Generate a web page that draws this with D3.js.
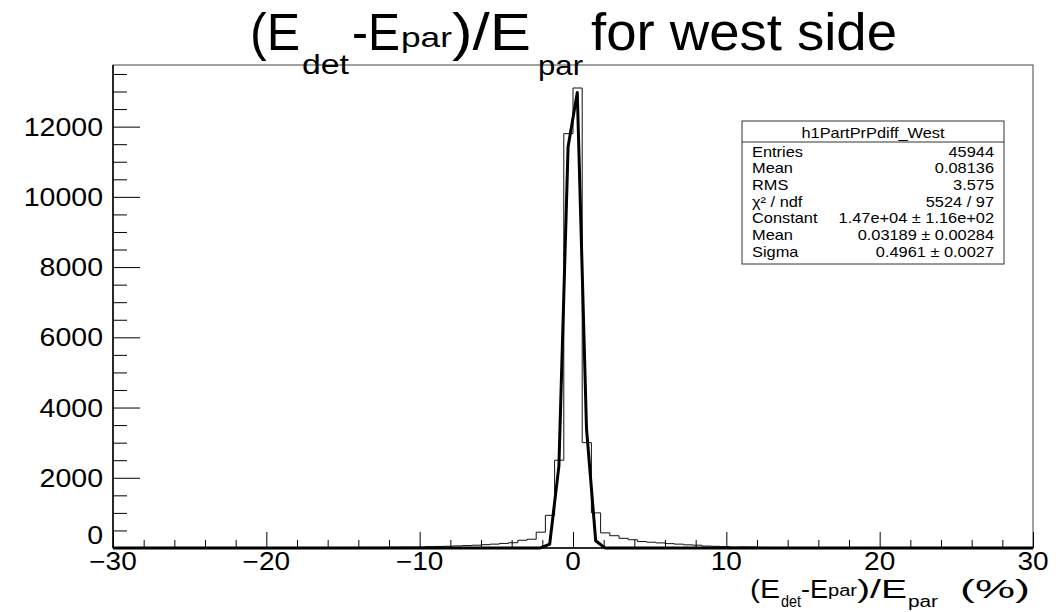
<!DOCTYPE html>
<html><head><meta charset="utf-8">
<script src="https://cdn.jsdelivr.net/npm/d3@7"></script>
<style>
body{margin:0;background:#fff}
text{font-family:"Liberation Sans",Arial,Helvetica,sans-serif;fill:#000}
</style>
</head><body>
<svg id="c" width="1056" height="612"></svg>
<script>
// ---------- data ----------
const binLow = -30, binWidth = 0.6;
const counts = [
  3,2,4,3,3,4,5,4,5,6,5,6,7,6,8,7,9,
  9,10,11,10,12,13,14,13,15,16,18,19,20,22,24,26,28,
  40,45,50,60,70,80,95,110,130,150,
  220,250,450,930,2500,11800,13100,3000,1000,430,
  350,275,235,185,165,145,125,110,90,80,
  55,48,42,25,30,28,
  18,15,14,12,11,10,9,9,8,7,7,6,6,5,5,5,4,4,4,3,3,3,3,2,2,2,2,2,1,1
];
const fitX = [-30, -3.32, -2.72, -2.12, -1.52, -0.92, -0.32, 0.28, 0.88, 1.48, 2.08, 2.68, 30];
const fitY = [0, 0, 0, 3, 110, 2330, 11430, 12970, 3410, 207, 2, 0, 0];
const yMajor = [0, 2000, 4000, 6000, 8000, 10000, 12000];
const yMinor = [500,1000,1500,2500,3000,3500,4500,5000,5500,6500,7000,7500,8500,9000,9500,10500,11000,11500,12500,13000,13500];
const xMajor = [-30, -20, -10, 0, 10, 20, 30];
const xMinor = [-28,-26,-24,-22,-18,-16,-14,-12,-8,-6,-4,-2,2,4,6,8,12,14,16,18,22,24,26,28];
const yMax = 13755;
const statsTitle = "h1PartPrPdiff_West";
const statsLabels = ["Entries", "Mean", "RMS", "χ² / ndf", "Constant", "Mean", "Sigma"];
const statsValues = ["45944", "0.08136", "3.575", "5524 / 97", "1.47e+04 ± 1.16e+02", "0.03189 ± 0.00284", "0.4961 ± 0.0027"];
// title pieces: [text, x, baseline, size, width]
const titleParts = [
  ["(E", 250, 50, 51, 50], ["det", 302, 74, 28, 47], ["-E", 352, 50, 51, 48],
  ["par", 401, 47, 28, 51], [")/E", 452, 50, 51, 79], ["par", 538, 75, 28, 45],
  ["for west side", 591, 50, 51, 306]
];
const xTitleParts = [
  ["(E", 750, 598, 25, 30], ["det", 781, 607, 16, 20], ["-E", 801, 598, 25, 27],
  ["par", 828, 596, 16, 29], [")/E", 857, 598, 25, 50], ["par", 908, 607, 16, 30],
  ["(%)", 960, 598, 25, 70]
];

// ---------- layout ----------
const L = 113, R = 1033, T = 65, B = 548;
const svg = d3.select("#c");
const x = d3.scaleLinear().domain([-30, 30]).range([L, R]);
const y = d3.scaleLinear().domain([0, yMax]).range([B, T]);

// frame
svg.append("rect").attr("x", L).attr("y", T).attr("width", R - L).attr("height", B - T)
  .attr("fill", "none").attr("stroke", "#444").attr("stroke-width", 1);

// histogram
let p = `M${x(binLow)},${y(0)}`;
counts.forEach((c, i) => {
  const x1 = binLow + (i + 1) * binWidth;
  p += `V${y(c)}H${x(x1)}`;
});
p += `V${y(0)}`;
svg.append("path").attr("d", p).attr("fill", "none").attr("stroke", "#111").attr("stroke-width", 1);

// fit curve
const line = d3.line().x((d, i) => x(fitX[i])).y(d => y(d));
svg.append("path").attr("d", line(fitY)).attr("fill", "none").attr("stroke", "#000")
  .attr("stroke-width", 3).attr("stroke-linejoin", "round");

// axes
function styleAxis(g) { g.selectAll("path.domain").remove(); g.selectAll("line").attr("stroke", "#000"); }
svg.append("g").attr("transform", `translate(${L},0)`)
  .call(d3.axisLeft(y).tickValues(yMajor).tickSize(-27).tickFormat("")).call(styleAxis);
svg.append("g").attr("transform", `translate(${L},0)`)
  .call(d3.axisLeft(y).tickValues(yMinor).tickSize(-14).tickFormat("")).call(styleAxis);
svg.append("g").attr("transform", `translate(0,${B})`)
  .call(d3.axisBottom(x).tickValues(xMajor).tickSize(-16).tickFormat("")).call(styleAxis);
svg.append("g").attr("transform", `translate(0,${B})`)
  .call(d3.axisBottom(x).tickValues(xMinor).tickSize(-8).tickFormat("")).call(styleAxis);
svg.append("line").attr("x1", L).attr("x2", L).attr("y1", T).attr("y2", B).attr("stroke", "#000").attr("stroke-width", 1.5);
svg.append("line").attr("x1", L).attr("x2", R).attr("y1", B).attr("y2", B).attr("stroke", "#000").attr("stroke-width", 1.5);

function sText(parent, str, tx, ty, size, anchor, sx) {
  parent.append("g").attr("transform", `translate(${tx},${ty}) scale(${sx},1)`)
    .append("text").attr("font-size", size).attr("text-anchor", anchor).text(str);
}
// y labels
yMajor.forEach(v => {
  const yy = v === 0 ? B - 4 : y(v) + 9;
  sText(svg, String(v), 103, yy, 25, "end", 1.14);
});
// x labels
const fmt = v => v < 0 ? "−" + Math.abs(v) : String(v);
xMajor.forEach(v => sText(svg, fmt(v), x(v), 570, 25, "middle", 1.12));

// titles
function parts(arr) {
  arr.forEach(([s, px, py, sz, w]) => {
    svg.append("text").attr("x", px).attr("y", py).attr("font-size", sz)
      .attr("textLength", w).attr("lengthAdjust", "spacingAndGlyphs").text(s);
  });
}
parts(titleParts);
parts(xTitleParts);

// stats box
const bx = 742, by = 121, bw = 262, bh = 143, titleH = 21, rowH = 16.7;
const box = svg.append("g");
box.append("rect").attr("x", bx).attr("y", by).attr("width", bw).attr("height", bh)
  .attr("fill", "#fff").attr("stroke", "#333").attr("stroke-width", 1);
box.append("line").attr("x1", bx).attr("x2", bx + bw).attr("y1", by + titleH).attr("y2", by + titleH)
  .attr("stroke", "#333");
sText(box, statsTitle, bx + bw / 2, by + 17, 14, "middle", 1.17);
statsLabels.forEach((lab, i) => {
  const yy = by + titleH + rowH * i + 14.5;
  sText(box, lab, bx + 10, yy, 14, "start", 1.17);
  sText(box, statsValues[i], bx + bw - 10, yy, 14, "end", 1.17);
});
</script>
</body></html>
